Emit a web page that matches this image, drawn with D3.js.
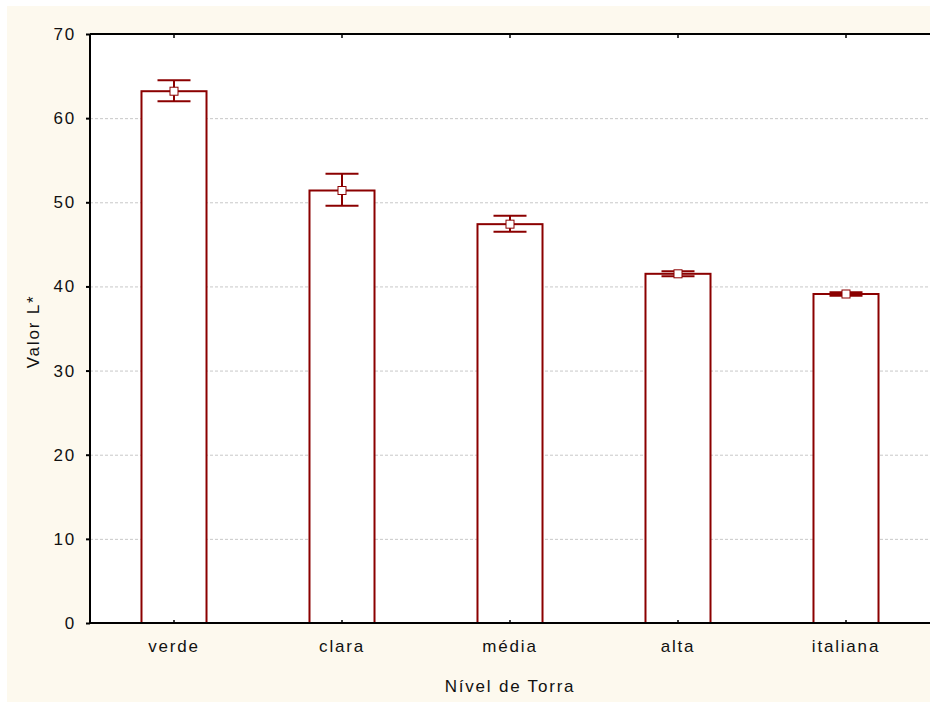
<!DOCTYPE html>
<html>
<head>
<meta charset="utf-8">
<script src="https://cdn.jsdelivr.net/npm/d3@7"></script>
<style>
  html, body { margin: 0; padding: 0; background: #fff; overflow: hidden; }
  svg { display: block; }
  svg text { font-family: "Liberation Sans", Arial, sans-serif; fill: #111; letter-spacing: 1.8px; }
</style>
</head>
<body>
<div class="chart"></div>
<script>
const categories = ["verde", "clara", "média", "alta", "italiana"];
const means = [63.2, 51.4, 47.4, 41.5, 39.1];
const upper = [64.5, 53.4, 48.4, 41.8, 39.3];
const lower = [62.0, 49.6, 46.5, 41.2, 38.9];
const yTicks = [0, 10, 20, 30, 40, 50, 60, 70];

const data = categories.map((c, i) => ({cat: c, mean: means[i], hi: upper[i], lo: lower[i]}));

const W = 930, H = 702;
const margin = {top: 34, left: 90, bottom: 79, right: 0};
const width = W - margin.left - margin.right;
const height = H - margin.top - margin.bottom;
const red = "#8b0000";

const svg = d3.select(".chart").append("svg")
  .attr("width", W)
  .attr("height", H);

// cream frame
svg.append("rect")
  .attr("x", 7).attr("y", 6)
  .attr("width", W - 7).attr("height", H - 6)
  .attr("fill", "#fdf9ee");

const g = svg.append("g")
  .attr("transform", "translate(" + margin.left + "," + margin.top + ")");

const x = d3.scaleBand()
  .domain(categories)
  .range([0, width])
  .paddingInner(0.613)
  .paddingOuter(0.3065);

const y = d3.scaleLinear()
  .domain([0, 70])
  .range([height, 0]);

g.append("rect")
  .attr("width", width).attr("height", height)
  .attr("fill", "#fff");

// grid
g.selectAll(".grid")
  .data(yTicks.filter(t => t > 0 && t < 70))
  .enter().append("line")
  .attr("class", "grid")
  .attr("x1", 0).attr("x2", width)
  .attr("y1", d => y(d) + 0.5).attr("y2", d => y(d) + 0.5)
  .attr("stroke", "#c8c8c8")
  .attr("stroke-dasharray", "3,2");

// bars
g.selectAll(".bar")
  .data(data)
  .enter().append("rect")
  .attr("class", "bar")
  .attr("x", d => x(d.cat))
  .attr("y", d => y(d.mean))
  .attr("width", x.bandwidth())
  .attr("height", d => height - y(d.mean))
  .attr("fill", "#fff")
  .attr("stroke", red)
  .attr("stroke-width", 2);

// error bars
const capW = 33;
const eb = g.selectAll(".err")
  .data(data)
  .enter().append("g")
  .attr("class", "err")
  .attr("transform", d => "translate(" + (x(d.cat) + x.bandwidth() / 2) + ",0)");

eb.append("line")
  .attr("x1", 0).attr("x2", 0)
  .attr("y1", d => y(d.hi)).attr("y2", d => y(d.lo))
  .attr("stroke", red).attr("stroke-width", 2);
eb.append("line")
  .attr("x1", -capW / 2).attr("x2", capW / 2)
  .attr("y1", d => y(d.hi)).attr("y2", d => y(d.hi))
  .attr("stroke", red).attr("stroke-width", 2);
eb.append("line")
  .attr("x1", -capW / 2).attr("x2", capW / 2)
  .attr("y1", d => y(d.lo)).attr("y2", d => y(d.lo))
  .attr("stroke", red).attr("stroke-width", 2);
eb.append("rect")
  .attr("x", -4).attr("y", d => y(d.mean) - 4)
  .attr("width", 8).attr("height", 8)
  .attr("fill", "#fff")
  .attr("stroke", red).attr("stroke-width", 1);

// axes
const yAxis = g.append("g")
  .call(d3.axisLeft(y).tickValues(yTicks).tickSize(4).tickPadding(10));
yAxis.select(".domain").remove();
yAxis.selectAll("line").attr("stroke", "#000").attr("stroke-width", 2);
yAxis.selectAll("text").style("font-size", "17px");

const xAxis = g.append("g")
  .attr("transform", "translate(0," + height + ")")
  .call(d3.axisBottom(x).tickSize(-3).tickPadding(17));
xAxis.select(".domain").remove();
xAxis.selectAll("line").attr("stroke", "#000").attr("stroke-width", 1.5);
xAxis.selectAll("text").style("font-size", "17px");

const xTop = g.append("g")
  .call(d3.axisTop(x).tickSize(-4).tickFormat(""));
xTop.select(".domain").remove();
xTop.selectAll("line").attr("stroke", "#000").attr("stroke-width", 1.5);

// frame lines
g.append("line").attr("x1", 0).attr("x2", width).attr("y1", 0).attr("y2", 0)
  .attr("stroke", "#000").attr("stroke-width", 2);
g.append("line").attr("x1", 0).attr("x2", width).attr("y1", height).attr("y2", height)
  .attr("stroke", "#000").attr("stroke-width", 2);
g.append("line").attr("x1", 0).attr("x2", 0).attr("y1", 0).attr("y2", height)
  .attr("stroke", "#000").attr("stroke-width", 2);

// axis titles
svg.append("text")
  .attr("x", margin.left + width / 2)
  .attr("y", 692)
  .attr("text-anchor", "middle")
  .style("font-size", "17px")
  .text("Nível de Torra");

svg.append("text")
  .attr("transform", "translate(39," + (margin.top + height / 2 + 3) + ") rotate(-90)")
  .attr("text-anchor", "middle")
  .style("font-size", "17px")
  .text("Valor L*");
</script>
</body>
</html>
